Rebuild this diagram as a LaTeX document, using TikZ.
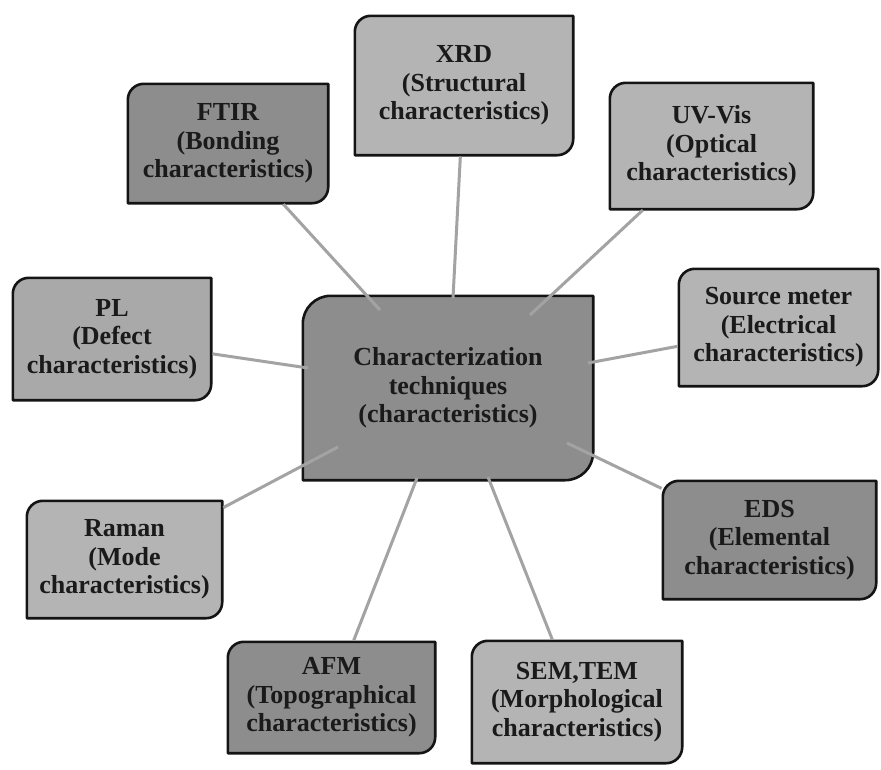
\documentclass[tikz,border=0pt]{standalone}
\usepackage{fontspec}
\setmainfont{Liberation Serif}
\usetikzlibrary{backgrounds}
\definecolor{darkbox}{HTML}{8D8D8D}
\definecolor{lightbox}{HTML}{B4B4B4}
\definecolor{midbox}{HTML}{A9A9A9}
\definecolor{linegray}{HTML}{A3A3A3}
\definecolor{txtcol}{HTML}{1A1A1A}
\tikzset{
  txt/.style={font=\bfseries\fontsize{26}{28.5}\selectfont, align=center, text=txtcol, inner sep=0pt},
  conn/.style={draw=linegray, line width=3pt, shorten >=1.3pt},
  boxline/.style={draw=black!92, line width=2.6pt, line join=round},
  boxshadow/.style={fill=black!13},
}
% name, x1, y1, x2, y2, fill, radius, text
\newcommand{\diagbox}[8]{%
  \node[txt, minimum width={#4-#2}, minimum height={#5-#3}] (#1) at ({(#2+#4)/2},{(#3+#5)/2+1}) {#8};
  \begin{scope}[on background layer]
    \fill[boxshadow, shift={(1.5pt,-3pt)}] ([yshift=-#7pt]#1.north west) arc[start angle=180,end angle=90,radius=#7pt] -- (#1.north east) -- ([yshift=#7pt]#1.south east) arc[start angle=0,end angle=-90,radius=#7pt] -- (#1.south west) -- cycle;
    \filldraw[boxline, fill=#6] ([yshift=-#7pt]#1.north west) arc[start angle=180,end angle=90,radius=#7pt] -- (#1.north east) -- ([yshift=#7pt]#1.south east) arc[start angle=0,end angle=-90,radius=#7pt] -- (#1.south west) -- cycle;
  \end{scope}%
}
\begin{document}
\begin{tikzpicture}[x=1pt, y=-1pt]
  \begin{scope}[on background layer]
    \fill[white] (0,0) rectangle (881,769);
  \end{scope}
  \useasboundingbox (0,0) rectangle (881,769);

  \diagbox{center}{303}{295}{593}{479}{darkbox}{28}{Characterization\\techniques\\(characteristics)}
  \diagbox{xrd}{355}{15}{573}{154}{lightbox}{16}{XRD\\(Structural\\characteristics)}
  \diagbox{ftir}{128}{83}{328}{202}{darkbox}{16}{FTIR\\(Bonding\\characteristics)}
  \diagbox{uvvis}{610}{82}{813}{208}{lightbox}{16}{UV-Vis\\(Optical\\characteristics)}
  \diagbox{source}{679}{268}{878}{385}{lightbox}{16}{Source meter\\(Electrical\\characteristics)}
  \diagbox{pl}{13}{277}{211}{399}{midbox}{16}{PL\\(Defect\\characteristics)}
  \diagbox{raman}{27}{500}{222}{617}{lightbox}{16}{Raman\\(Mode\\characteristics)}
  \diagbox{afm}{228}{641}{435}{752}{darkbox}{16}{AFM\\(Topographical\\characteristics)}
  \diagbox{sem}{472}{640}{682}{762}{lightbox}{16}{SEM,TEM\\(Morphological\\characteristics)}
  \diagbox{eds}{663}{480}{876}{598}{darkbox}{16}{EDS\\(Elemental\\characteristics)}

  \coordinate (c-ftir) at (380,310);
  \coordinate (c-xrd) at (453,298);
  \coordinate (c-uv) at (530,315);
  \coordinate (c-src) at (588,363);
  \coordinate (c-pl) at (308,368);
  \coordinate (c-raman) at (338,447);
  \coordinate (c-afm) at (417,478);
  \coordinate (c-sem) at (488,477);
  \coordinate (c-eds) at (567,443);

  \draw[conn] (c-ftir) -- (ftir);
  \draw[conn] (c-xrd) -- (xrd);
  \draw[conn] (c-uv) -- (uvvis);
  \draw[conn] (c-src) -- (source);
  \draw[conn] (c-pl) -- (pl);
  \draw[conn] (c-raman) -- (raman);
  \draw[conn] (c-afm) -- (afm);
  \draw[conn] (c-sem) -- (sem);
  \draw[conn] (c-eds) -- (eds);
\end{tikzpicture}
\end{document}
